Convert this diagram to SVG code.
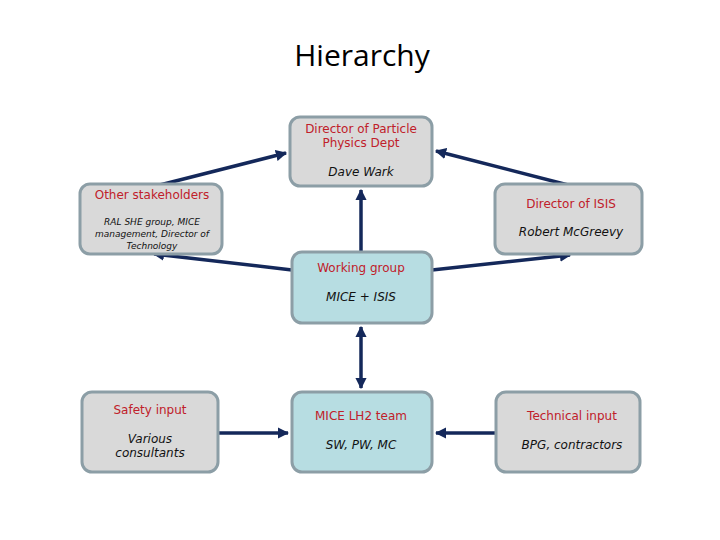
<svg xmlns="http://www.w3.org/2000/svg" width="720" height="540" viewBox="0 0 720 540">
<style>
.b{stroke:#8c9ea6;stroke-width:3}
.g{fill:#d9d9d9}.c{fill:#b7dde2}
text{font-family:"DejaVu Sans",sans-serif;text-anchor:middle}
.r{fill:#c0202a;font-size:12px}
.i{fill:#111;font-size:12px;font-style:italic}
.s{fill:#111;font-size:9px;font-style:italic}
.l{stroke:#14285a;stroke-width:3.5;fill:none;marker-end:url(#a)}
</style>
<defs><marker id="a" viewBox="0 0 10 10" refX="9" refY="5" markerWidth="3.2" markerHeight="3.2" orient="auto-start-reverse"><path d="M0,0L10,5L0,10z" fill="#14285a"/></marker></defs>
<rect width="720" height="540" fill="#fff"/>
<text x="362" y="66" style="font-size:30px;fill:#000;font-family:'Open Sans',sans-serif">Hierarchy</text>
<g id="conn">
<path class="l" d="M361,252V190"/>
<path class="l" d="M148,188L286,153"/>
<path class="l" d="M572,186L436,151"/>
<path class="l" d="M292,270L154,254"/>
<path class="l" d="M432,270L570,255"/>
<path class="l" d="M361,327V388" style="marker-start:url(#a)"/>
<path class="l" d="M218,433H288"/>
<path class="l" d="M496,433H436"/>
</g>
<g id="dpp"><rect class="b g" x="290" y="117" width="142" height="69" rx="10"/><text class="r" x="361" y="133">Director of Particle</text><text class="r" x="361" y="147">Physics Dept</text><text class="i" x="361" y="176">Dave Wark</text></g>
<g id="other"><rect class="b g" x="80" y="184" width="142" height="70" rx="10"/><text class="r" x="152" y="199">Other stakeholders</text><text class="s" x="152" y="225">RAL SHE group, MICE</text><text class="s" x="152" y="237">management, Director of</text><text class="s" x="152" y="249">Technology</text></g>
<g id="isis"><rect class="b g" x="495" y="184" width="147" height="70" rx="10"/><text class="r" x="571" y="208">Director of ISIS</text><text class="i" x="571" y="236">Robert McGreevy</text></g>
<g id="wg"><rect class="b c" x="292" y="252" width="140" height="71" rx="10"/><text class="r" x="361" y="272">Working group</text><text class="i" x="361" y="301">MICE + ISIS</text></g>
<g id="safety"><rect class="b g" x="82" y="392" width="136" height="80" rx="10"/><text class="r" x="150" y="414">Safety input</text><text class="i" x="150" y="443">Various</text><text class="i" x="150" y="457">consultants</text></g>
<g id="lh2"><rect class="b c" x="292" y="392" width="140" height="80" rx="10"/><text class="r" x="361" y="420">MICE LH2 team</text><text class="i" x="361" y="449">SW, PW, MC</text></g>
<g id="tech"><rect class="b g" x="496" y="392" width="144" height="80" rx="10"/><text class="r" x="572" y="420">Technical input</text><text class="i" x="572" y="449">BPG, contractors</text></g>
</svg>
